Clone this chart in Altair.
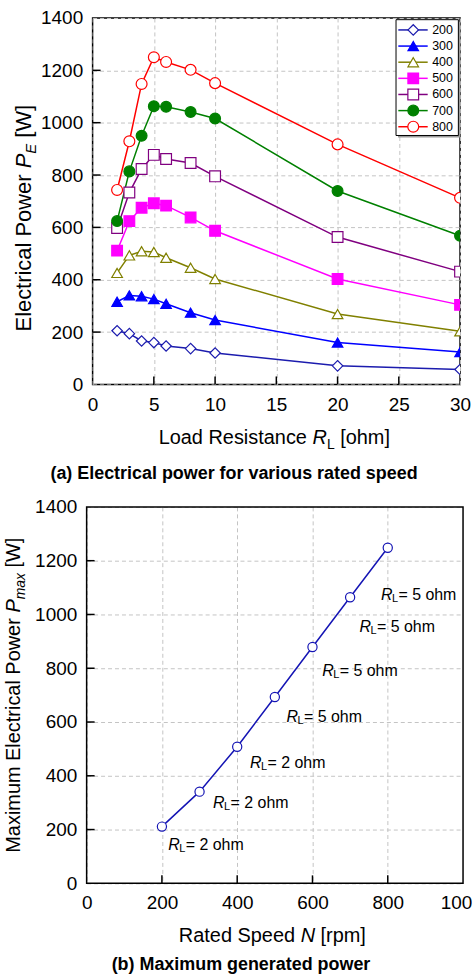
import altair as alt
import pandas as pd

FONT = "Liberation Sans"

# ---------------- (a) Electrical power for various rated speed ----------------
load_res = [2, 3, 4, 5, 6, 8, 10, 20, 30]
speeds = ["200", "300", "400", "500", "600", "700", "800"]
p200 = [205, 194, 166, 160, 147, 137, 120, 71, 57]
p300 = [316, 340, 337, 326, 308, 274, 246, 160, 124]
p400 = [426, 493, 509, 506, 484, 446, 403, 269, 203]
p500 = [511, 624, 675, 692, 683, 638, 587, 403, 304]
p600 = [598, 733, 823, 877, 861, 846, 795, 563, 431]
p700 = [624, 814, 950, 1063, 1061, 1041, 1016, 739, 568]
p800 = [743, 929, 1148, 1250, 1232, 1202, 1151, 917, 713]
series_a = [p200, p300, p400, p500, p600, p700, p800]

colors = ["#1c1cae", "#0000ff", "#808000", "#ff00ff", "#800080", "#008000", "#ff0000"]
shapes = ["diamond", "triangle-up", "triangle-up", "square", "square", "circle", "circle"]
fills = ["white", "#0000ff", "white", "#ff00ff", "white", "#008000", "white"]
sizes = [110, 120, 120, 64, 60, 94, 81]

xa_ticks = [0, 5, 10, 15, 20, 25, 30]
xa_inner = [5, 10, 15, 20, 25]
ya_ticks = [0, 200, 400, 600, 800, 1000, 1200, 1400]
ya_inner = [200, 400, 600, 800, 1000, 1200]

# ---------------- (b) Maximum generated power ----------------
rated = [200, 300, 400, 500, 600, 700, 800]
pmax = [211, 341, 508, 693, 879, 1064, 1248]
ann_x = [217, 336, 434, 531, 626, 725, 782]
ann_y = [143, 299, 449, 619, 791, 955, 1074]
ann_txt = ["= 2 ohm", "= 2 ohm", "= 2 ohm", "= 5 ohm", "= 5 ohm", "= 5 ohm", "= 5 ohm"]
xb_ticks = [0, 200, 400, 600, 800]
xb_last = [1000]            # last tick label, cut by the picture's right edge
xb_last_txt = ["1000"]
xb_inner = [200, 400, 600, 800]
yb_ticks = [0, 200, 400, 600, 800, 1000, 1200, 1400]
yb_inner = [200, 400, 600, 800, 1000, 1200]

# text pieces
cap_a = "(a) Electrical power for various rated speed"
cap_b = "(b) Maximum generated power"
xt_a = ["Load Resistance", "R", "L", "[ohm]"]
yt_a = ["Electrical Power", "P", "E", "[W]"]
xt_b = ["Rated Speed", "N", "[rpm]"]
yt_b = ["Maximum Electrical Power", "P", "max", "[W]"]

WA, HA = 369, 368
WB, HB = 372, 378          # (b) plot drawn from -6 .. 372 px of its origin
XB0 = -6
LINE_B = "#1414b4"

one = pd.DataFrame({"k": [0]})


def txt(s, x, y, size=20, style="normal", weight="normal", angle=0, align="left",
        baseline="alphabetic"):
    kw = dict(font=FONT, fontSize=size, fontStyle=style, fontWeight=weight,
              align=align, baseline=baseline, color="black")
    if angle:
        kw["angle"] = angle
    return alt.Chart(pd.DataFrame({"t": [s]})).mark_text(**kw).encode(
        x=alt.value(x), y=alt.value(y), text="t:N")


def canvas(x0, x1, y0, y1):
    return alt.Chart(one).mark_rect(opacity=0).encode(
        x=alt.value(x0), x2=alt.value(x1), y=alt.value(y0), y2=alt.value(y1))


# ---------------- chart (a) ----------------
rows = []
for s, vals in zip(speeds, series_a):
    for r, p in zip(load_res, vals):
        rows.append({"R": r, "P": p, "s": s})
df_a = pd.DataFrame(rows)

xs_a = alt.Scale(domain=[0, 30], nice=False, zero=False)
ys_a = alt.Scale(domain=[0, 1400], nice=False)
ax_xa = alt.Axis(values=xa_ticks, labelPadding=11, format="d")
ax_ya = alt.Axis(values=ya_ticks, labelPadding=10, format="d")
col_sc = alt.Scale(domain=speeds, range=colors)
fill_sc = alt.Scale(domain=speeds, range=fills)
shape_sc = alt.Scale(domain=speeds, range=shapes)
size_sc = alt.Scale(domain=speeds, range=sizes)

lines_a = alt.Chart(df_a).mark_line(strokeWidth=1.5, clip=True).encode(
    x=alt.X("R:Q", scale=xs_a, title=None, axis=ax_xa),
    y=alt.Y("P:Q", scale=ys_a, title=None, axis=ax_ya),
    color=alt.Color("s:N", scale=col_sc, legend=None),
)
points_a = alt.Chart(df_a).mark_point(clip=True, strokeWidth=1.2, opacity=1, fillOpacity=1).encode(
    x=alt.X("R:Q", scale=xs_a, title=None, axis=ax_xa),
    y=alt.Y("P:Q", scale=ys_a, title=None, axis=ax_ya),
    shape=alt.Shape("s:N", scale=shape_sc, legend=None),
    stroke=alt.Stroke("s:N", scale=col_sc, legend=None),
    fill=alt.Fill("s:N", scale=fill_sc, legend=None),
    size=alt.Size("s:O", scale=size_sc, legend=None),
)
xt_rules_a = alt.Chart(pd.DataFrame({"v": xa_inner})).mark_rule(color="black", strokeWidth=1.5).encode(
    x=alt.X("v:Q", scale=xs_a, title=None, axis=ax_xa), y=alt.value(HA), y2=alt.value(HA - 8))
yt_rules_a = alt.Chart(pd.DataFrame({"v": ya_inner})).mark_rule(color="black", strokeWidth=1.5).encode(
    y=alt.Y("v:Q", scale=ys_a, title=None, axis=ax_ya), x=alt.value(0), x2=alt.value(8))

main_a = alt.layer(lines_a, xt_rules_a, yt_rules_a, points_a)

leg_df = pd.DataFrame({"s": speeds, "row": list(range(len(speeds)))})
leg_y = alt.Y("row:Q", scale=alt.Scale(domain=[0, 6], range=[12, 109.2]), axis=None)
leg_shadow = alt.Chart(one).mark_rect(color="#9a9a9a").encode(
    x=alt.value(306.7), x2=alt.value(369.3), y=alt.value(3.7), y2=alt.value(120))
leg_box = alt.Chart(one).mark_rect(fill="white", stroke="black", strokeWidth=1).encode(
    x=alt.value(304.7), x2=alt.value(367.3), y=alt.value(1.7), y2=alt.value(118))
leg_lines = alt.Chart(leg_df).mark_rule(strokeWidth=1.5).encode(
    x=alt.value(307), x2=alt.value(336.5), y=leg_y,
    color=alt.Color("s:N", scale=col_sc, legend=None))
leg_pts = alt.Chart(leg_df).mark_point(strokeWidth=1.2, opacity=1, fillOpacity=1).encode(
    x=alt.value(322), y=leg_y,
    shape=alt.Shape("s:N", scale=shape_sc, legend=None),
    stroke=alt.Stroke("s:N", scale=col_sc, legend=None),
    fill=alt.Fill("s:N", scale=fill_sc, legend=None),
    size=alt.Size("s:O", scale=size_sc, legend=None),
)
leg_txt = alt.Chart(leg_df).mark_text(font=FONT, fontSize=12.5, align="left", baseline="middle",
                                      color="black").encode(
    x=alt.value(341), y=leg_y, text="s:N")
legend_a = alt.layer(leg_shadow, leg_box, leg_lines, leg_pts, leg_txt)

titles_a = [
    txt(xt_a[0], 66.3, 428.2),
    txt(xt_a[1], 220.8, 428.2, style="italic"),
    txt(xt_a[2], 235.3, 432.7, size=14),
    txt(xt_a[3], 248.6, 428.2),
    txt(yt_a[0], -62.1, 314.8, size=22, angle=270),
    txt(yt_a[1], -62.1, 151.0, size=22, angle=270, style="italic"),
    txt(yt_a[2], -57.1, 136.3, size=15, angle=270, style="italic"),
    txt(yt_a[3], -62.1, 120.2, size=22, angle=270),
    txt(cap_a, 142, 462.5, size=18, weight="bold", align="center"),
]

top = alt.layer(canvas(-92, 381, -15, 475), main_a, legend_a, *titles_a).resolve_scale(
    y="independent").properties(width=WA, height=HA)

# ---------------- chart (b) ----------------
df_b = pd.DataFrame({"N": rated, "P": pmax})
df_ann = pd.DataFrame({"ax": ann_x, "ay": ann_y, "t": ann_txt})
xs_b = alt.Scale(domain=[0, 1000], range=[XB0, WB], nice=False, zero=False)
ys_b = alt.Scale(domain=[0, 1400], nice=False)
ax_xb = alt.Axis(values=xb_ticks, labelPadding=10.5, format="d")
ax_yb = alt.Axis(values=yb_ticks, labelPadding=10, offset=-XB0, format="d")

line_b = alt.Chart(df_b).mark_line(color=LINE_B, strokeWidth=1.5).encode(
    x=alt.X("N:Q", scale=xs_b, title=None, axis=ax_xb),
    y=alt.Y("P:Q", scale=ys_b, title=None, axis=ax_yb),
)
pts_b = alt.Chart(df_b).mark_point(shape="circle", size=85, filled=True, fill="white", stroke=LINE_B,
                                   strokeWidth=1.2, opacity=1).encode(
    x=alt.X("N:Q", scale=xs_b, title=None, axis=ax_xb),
    y=alt.Y("P:Q", scale=ys_b, title=None, axis=ax_yb))
xt_rules_b = alt.Chart(pd.DataFrame({"v": xb_inner})).mark_rule(color="black", strokeWidth=1.5).encode(
    x=alt.X("v:Q", scale=xs_b, title=None, axis=ax_xb), y=alt.value(HB), y2=alt.value(HB - 8))
yt_rules_b = alt.Chart(pd.DataFrame({"v": yb_inner})).mark_rule(color="black", strokeWidth=1.5).encode(
    y=alt.Y("v:Q", scale=ys_b, title=None, axis=ax_yb), x=alt.value(XB0), x2=alt.value(XB0 + 8))
frame_b = alt.Chart(one).mark_rect(fill="white", fillOpacity=0, stroke="black", strokeWidth=1.5).encode(
    x=alt.value(XB0), x2=alt.value(WB), y=alt.value(0), y2=alt.value(HB))
last_lbl_b = alt.Chart(pd.DataFrame({"v": xb_last, "t": xb_last_txt})).mark_text(
    font=FONT, fontSize=19, align="left", baseline="top", dx=-22.5, limit=32.5, ellipsis="\u200b",
    color="black").encode(
    x=alt.X("v:Q", scale=xs_b, title=None, axis=ax_xb), y=alt.value(HB + 10.5), text="t:N")

ann_enc = dict(x=alt.X("ax:Q", scale=xs_b, title=None, axis=ax_xb),
               y=alt.Y("ay:Q", scale=ys_b, title=None, axis=ax_yb))
ann_R = alt.Chart(df_ann).mark_text(text="R", font=FONT, fontSize=16, fontStyle="italic", align="left",
                                    baseline="middle", color="black").encode(**ann_enc)
ann_L = alt.Chart(df_ann).mark_text(text="L", font=FONT, fontSize=11, align="left", dx=11, dy=4,
                                    baseline="middle", color="black").encode(**ann_enc)
ann_T = alt.Chart(df_ann).mark_text(font=FONT, fontSize=16, align="left", dx=17.5,
                                    baseline="middle", color="black").encode(text="t:N", **ann_enc)

titles_b = [
    txt(xt_b[0], 86.6, 437.2),
    txt(xt_b[1], 208.9, 437.2, style="italic"),
    txt(xt_b[2], 228.9, 437.2),
    txt(yt_b[0], -72.8, 347.25, angle=270),
    txt(yt_b[1], -72.8, 106.1, angle=270, style="italic"),
    txt(yt_b[2], -68.3, 92.8, size=14, angle=270, style="italic"),
    txt(yt_b[3], -72.8, 60.8, angle=270),
    txt(cap_b, 149, 465.5, size=18, weight="bold", align="center"),
]

bottom = alt.layer(canvas(-92, 381, -15, 470), line_b, xt_rules_b, yt_rules_b, pts_b,
                   ann_R, ann_L, ann_T, frame_b, last_lbl_b, *titles_b).properties(
    width=WB, height=HB, view=alt.ViewBackground(strokeOpacity=0))

chart = alt.vconcat(top, bottom, spacing=0).properties(
    padding={"left": 0, "top": 0, "right": 0, "bottom": 0}, background="white"
).configure_view(stroke="black", strokeWidth=1.5).configure_axis(
    labelFont=FONT, labelFontSize=19, labelColor="black", domain=False, ticks=False, tickSize=0,
    grid=True, gridColor="#c4c4c4", gridDash=[4, 3], gridWidth=1, labelFlush=False, labelOverlap=False,
)

chart.save("out.html", embed_options={"renderer": "svg", "actions": False})
